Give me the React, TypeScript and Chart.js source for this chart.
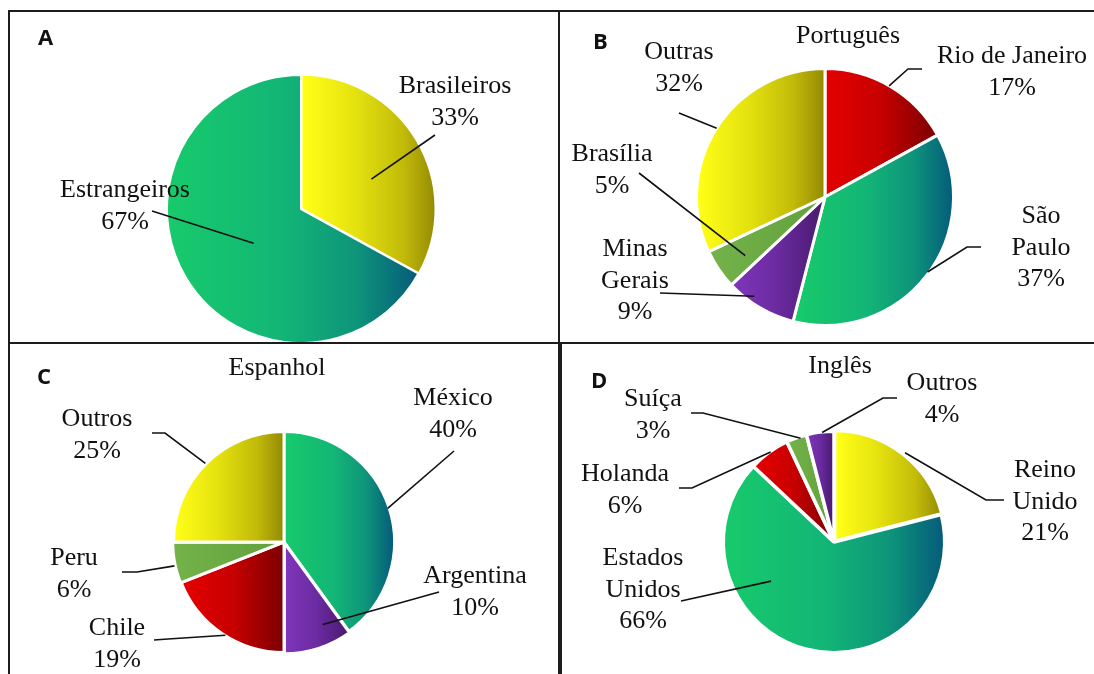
import { useEffect, useRef } from 'react';
import { Chart, registerables } from 'chart.js';

Chart.register(...registerables);

// A: authors by origin
const originCategories = ['Brasileiros', 'Estrangeiros'];
const originShares = [33, 67];

// B: Portuguese-speaking authors by state / city
const portugueseCategories = ['Rio de Janeiro', 'São Paulo', 'Minas Gerais', 'Brasília', 'Outras'];
const portugueseShares = [17, 37, 9, 5, 32];

// C: Spanish-speaking authors by country
const spanishCategories = ['México', 'Argentina', 'Chile', 'Peru', 'Outros'];
const spanishShares = [40, 10, 19, 6, 25];

// D: English-speaking authors by country
const englishCategories = ['Reino Unido', 'Estados Unidos', 'Holanda', 'Suíça', 'Outros'];
const englishShares = [21, 66, 6, 3, 4];

const panelLetters = ['A', 'B', 'C', 'D'];
const panelTitles = ['', 'Português', 'Espanhol', 'Inglês'];

type Shade = 'yellow' | 'green' | 'red' | 'purple' | 'lime';

// horizontal gradient stops, light on the left edge of a slice, dark on the right
const SHADES: Record<Shade, [number, string][]> = {
  yellow: [[0, '#FFFF17'], [0.4, '#E4E10F'], [0.75, '#C2BB09'], [1, '#938904']],
  green: [[0, '#17CA6B'], [0.45, '#13B676'], [0.75, '#0E957A'], [1, '#055C7B']],
  red: [[0, '#E60000'], [0.5, '#C70000'], [1, '#7C0003']],
  purple: [[0, '#7F36BA'], [0.5, '#6A2AA0'], [1, '#471A6C']],
  lime: [[0, '#74B24A'], [1, '#62A03D']],
};

const TEXT_FONT = '26px "Liberation Serif", "Times New Roman", serif';
const LETTER_FONT = 'bold 22px "Open Sans", Arial, sans-serif';
const LINE_HEIGHT = 31.5;
const INK = '#111111';

interface Callout {
  dx: number; // text centre, relative to pie centre
  dy: number; // first baseline, relative to pie centre
  wrap?: boolean; // one word per line
  path: [number, number][]; // leader points on the text side, relative to pie centre
  t: number; // where along the slice's sweep the leader ends (0..1)
  rf: number; // radial position of the leader end, fraction of radius
}

interface PanelSpec {
  letter: string;
  title: string;
  categories: string[];
  values: number[];
  shades: Shade[];
  offsets: number[];
  border: number;
  box: { left: number; top: number; width: number; height: number };
  center: [number, number]; // page coordinates
  radius: number;
  letterPos: [number, number]; // page coordinates (left, baseline)
  titlePos: [number, number]; // relative to pie centre
  callouts: Callout[];
}

const panels: PanelSpec[] = [
  {
    letter: panelLetters[0],
    title: panelTitles[0],
    categories: originCategories,
    values: originShares,
    shades: ['yellow', 'green'],
    offsets: [2, 0],
    border: 2,
    box: { left: 10, top: 12, width: 548, height: 330 },
    center: [301, 209],
    radius: 133,
    letterPos: [38, 45],
    titlePos: [0, 0],
    callouts: [
      { dx: 154, dy: -116, path: [[134, -74]], t: 0.566, rf: 0.56 },
      { dx: -176, dy: -12, path: [[-149, 2]], t: 0.478, rf: 0.44 },
    ],
  },
  {
    letter: panelLetters[1],
    title: panelTitles[1],
    categories: portugueseCategories,
    values: portugueseShares,
    shades: ['red', 'green', 'purple', 'lime', 'yellow'],
    offsets: [0, 0, 0, 0, 0],
    border: 3,
    box: { left: 560, top: 12, width: 534, height: 330 },
    center: [825, 197],
    radius: 127,
    letterPos: [593, 49],
    titlePos: [23, -154],
    callouts: [
      { dx: 187, dy: -134, path: [[97, -128], [83, -128]], t: 0.49, rf: 1.01 },
      { dx: 216, dy: 26, wrap: true, path: [[156, 50], [142, 50]], t: 0.488, rf: 1.0 },
      { dx: -190, dy: 59, wrap: true, path: [[-165, 96]], t: 0.65, rf: 0.96 },
      { dx: -213, dy: -36, path: [[-186, -24]], t: 0.38, rf: 0.78 },
      { dx: -146, dy: -138, path: [[-146, -84]], t: 0.5, rf: 1.01 },
    ],
  },
  {
    letter: panelLetters[2],
    title: panelTitles[2],
    categories: spanishCategories,
    values: spanishShares,
    shades: ['green', 'purple', 'red', 'lime', 'yellow'],
    offsets: [0, 4, 0, 2, 0],
    border: 3,
    box: { left: 10, top: 344, width: 548, height: 330 },
    center: [284, 542],
    radius: 109,
    letterPos: [37, 384],
    titlePos: [-7, -167],
    callouts: [
      { dx: 169, dy: -137, path: [[170, -91]], t: 0.5, rf: 1.0 },
      { dx: 191, dy: 41, path: [[155, 50]], t: 0.29, rf: 0.8 },
      { dx: -167, dy: 93, path: [[-130, 98], [-116, 97]], t: 0.47, rf: 1.01 },
      { dx: -210, dy: 23, path: [[-162, 30], [-147, 30]], t: 0.43, rf: 1.01 },
      { dx: -187, dy: -116, path: [[-132, -109], [-119, -109]], t: 0.5, rf: 1.02 },
    ],
  },
  {
    letter: panelLetters[3],
    title: panelTitles[3],
    categories: englishCategories,
    values: englishShares,
    shades: ['yellow', 'green', 'red', 'lime', 'purple'],
    offsets: [4, 0, 0, 0, 0],
    border: 3.5,
    box: { left: 562, top: 344, width: 532, height: 330 },
    center: [834, 542],
    radius: 109,
    letterPos: [591, 388],
    titlePos: [6, -169],
    callouts: [
      { dx: 211, dy: -65, wrap: true, path: [[170, -42], [152, -42]], t: 0.51, rf: 1.01 },
      { dx: -191, dy: 23, wrap: true, path: [[-153, 59]], t: 0.684, rf: 0.68 },
      { dx: -209, dy: -61, path: [[-155, -54], [-142, -54]], t: 0.54, rf: 1.01 },
      { dx: -181, dy: -136, path: [[-143, -129], [-131, -129]], t: 0.68, rf: 1.0 },
      { dx: 108, dy: -152, path: [[63, -144], [49, -144]], t: 0.57, rf: 1.01 },
    ],
  },
];

// horizontal extent of a pie sector (angles in canvas radians)
function sliceSpan(cx: number, r: number, a0: number, a1: number): [number, number] {
  const xs = [cx, cx + r * Math.cos(a0), cx + r * Math.cos(a1)];
  for (let k = Math.ceil(a0 / Math.PI); k * Math.PI <= a1; k++) {
    xs.push(cx + r * Math.cos(k * Math.PI));
  }
  return [Math.min(...xs), Math.max(...xs)];
}

function sliceFill(spec: PanelSpec) {
  return (ctx: any) => {
    const i: number = ctx.dataIndex ?? 0;
    const stops = SHADES[spec.shades[i]];
    const area = ctx.chart.chartArea;
    if (!area) return stops[0][1];
    const cx = (area.left + area.right) / 2;
    const vals = spec.values;
    const total = vals.reduce((a, b) => a + b, 0);
    let a0 = -Math.PI / 2;
    for (let k = 0; k < i; k++) a0 += (vals[k] / total) * Math.PI * 2;
    const a1 = a0 + (vals[i] / total) * Math.PI * 2;
    const shift = Math.cos((a0 + a1) / 2) * (spec.offsets[i] || 0);
    const [x0, x1] = sliceSpan(cx + shift, spec.radius, a0, a1);
    const g = ctx.chart.ctx.createLinearGradient(x0, 0, Math.max(x1, x0 + 1), 0);
    stops.forEach(([o, c]) => g.addColorStop(o, c));
    return g;
  };
}

function calloutPlugin(spec: PanelSpec) {
  return {
    id: 'callouts',
    afterDatasetsDraw(chart: any) {
      const meta = chart.getDatasetMeta(0);
      const first = meta.data[0];
      if (!first) return;
      const ctx: CanvasRenderingContext2D = chart.ctx;
      const cx = first.x;
      const cy = first.y;
      ctx.save();
      ctx.fillStyle = INK;
      ctx.strokeStyle = INK;
      ctx.textBaseline = 'alphabetic';

      ctx.font = LETTER_FONT;
      ctx.textAlign = 'left';
      ctx.fillText(spec.letter, spec.letterPos[0] - spec.box.left, spec.letterPos[1] - spec.box.top);

      ctx.font = TEXT_FONT;
      ctx.textAlign = 'center';
      if (spec.title) ctx.fillText(spec.title, cx + spec.titlePos[0], cy + spec.titlePos[1]);

      ctx.lineWidth = 1.6;
      spec.callouts.forEach((c, i) => {
        const arc = meta.data[i];
        const p = arc.getProps(['startAngle', 'endAngle', 'outerRadius'], true);
        const off = arc.options.offset || 0;
        const mid = (p.startAngle + p.endAngle) / 2;
        const a = p.startAngle + c.t * (p.endAngle - p.startAngle);
        const ax = cx + Math.cos(mid) * off + Math.cos(a) * c.rf * spec.radius;
        const ay = cy + Math.sin(mid) * off + Math.sin(a) * c.rf * spec.radius;
        ctx.beginPath();
        c.path.forEach(([px, py], k) => {
          if (k === 0) ctx.moveTo(cx + px, cy + py);
          else ctx.lineTo(cx + px, cy + py);
        });
        ctx.lineTo(ax, ay);
        ctx.stroke();

        const name = spec.categories[i];
        const lines = c.wrap ? name.split(' ') : [name];
        lines.push(`${spec.values[i]}%`);
        lines.forEach((ln, k) => ctx.fillText(ln, cx + c.dx, cy + c.dy + k * LINE_HEIGHT));
      });
      ctx.restore();
    },
  };
}

function PiePanel({ spec }: { spec: PanelSpec }) {
  const ref = useRef<HTMLCanvasElement>(null);
  useEffect(() => {
    if (!ref.current) return;
    const { box } = spec;
    const lx = spec.center[0] - box.left;
    const ly = spec.center[1] - box.top;
    const s = 20;
    const chart = new Chart(ref.current, {
      type: 'pie',
      data: {
        labels: spec.categories,
        datasets: [
          {
            data: spec.values,
            backgroundColor: sliceFill(spec) as any,
            borderColor: '#ffffff',
            borderWidth: spec.border,
            offset: spec.offsets,
            radius: spec.radius + spec.border / 2,
            clip: false,
          } as any,
        ],
      },
      options: {
        responsive: false,
        animation: false,
        events: [],
        layout: {
          padding: {
            left: lx - s,
            right: box.width - lx - s,
            top: ly - s,
            bottom: box.height - ly - s,
          },
        },
        plugins: {
          legend: { display: false },
          tooltip: { enabled: false },
          title: { display: false },
        },
      },
      plugins: [calloutPlugin(spec)],
    });
    return () => chart.destroy();
  }, [spec]);

  const { box } = spec;
  return (
    <canvas
      ref={ref}
      width={box.width}
      height={box.height}
      style={{ position: 'absolute', left: box.left, top: box.top, width: box.width, height: box.height }}
    />
  );
}

const RULE = '#1c1c1c';

export default function App() {
  const line = (left: number, top: number, width: number, height: number) => (
    <div style={{ position: 'absolute', left, top, width, height, background: RULE }} />
  );
  return (
    <div
      style={{
        position: 'fixed',
        left: 0,
        top: 0,
        width: 1094,
        height: 674,
        background: '#ffffff',
        overflow: 'hidden',
      }}
    >
      {panels.map((p) => (
        <PiePanel key={p.letter} spec={p} />
      ))}
      {line(8, 10, 1086, 2)}
      {line(8, 10, 2, 664)}
      {line(558, 10, 2, 333)}
      {line(8, 342, 1086, 2)}
      {line(558, 342, 4, 332)}
    </div>
  );
}
